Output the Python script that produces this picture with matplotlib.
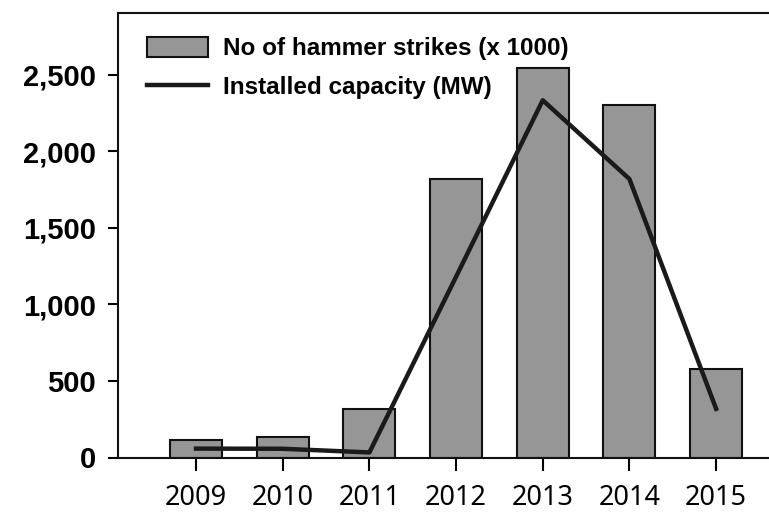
import numpy as np
from matplotlib import pyplot as plt
from matplotlib.ticker import FuncFormatter

years = [2009, 2010, 2011, 2012, 2013, 2014, 2015]
strikes = [117, 135, 316, 1818, 2544, 2300, 575]
capacity = [58, 57, 33, 1180, 2332, 1818, 318]

fig = plt.figure(figsize=(7.69, 5.13), dpi=100)
ax = fig.add_axes([118 / 769, (513 - 457.5) / 513, 1 - 118 / 769, (457.5 - 12.5) / 513])

bars = ax.bar(years, strikes, width=0.6, color='#969696', edgecolor='#111111', linewidth=1.5,
              label='No of hammer strikes (x 1000)', zorder=2)
line, = ax.plot(years, capacity, color='#1a1a1a', linewidth=3.2, label='Installed capacity (MW)', zorder=3)

ax.set_xlim(2008.1, 2015.61)
ax.set_ylim(0, 2905)
ax.set_yticks(np.arange(0, 3000, 500))
ax.yaxis.set_major_formatter(FuncFormatter(lambda v, p: '{:,.0f}'.format(v)))
ax.set_xticks(years)

ax.spines['right'].set_visible(False)
for s in ['left', 'top', 'bottom']:
    ax.spines[s].set_linewidth(1.5)
    ax.spines[s].set_color('#111111')

ax.tick_params(axis='y', direction='out', length=7, width=1.5, pad=9)
ax.tick_params(axis='x', direction='out', length=9, width=1.5, pad=10)
for lab in ax.get_yticklabels():
    lab.set_fontfamily('Liberation Sans')
    lab.set_fontweight('bold')
    lab.set_fontsize(21)
for lab in ax.get_xticklabels():
    lab.set_fontfamily('Noto Sans')
    lab.set_fontweight('semibold')
    lab.set_fontsize(19.5)

leg = ax.legend([bars, line], ['No of hammer strikes (x 1000)', 'Installed capacity (MW)'],
                loc='upper left', frameon=False,
                prop={'family': 'Liberation Sans', 'weight': 'bold', 'size': 17.5},
                handlelength=2.5, handleheight=0.85, handletextpad=0.6, labelspacing=0.62,
                borderaxespad=0.0, bbox_to_anchor=(0.03, 0.966))

plt.savefig('out.png', dpi=100)
